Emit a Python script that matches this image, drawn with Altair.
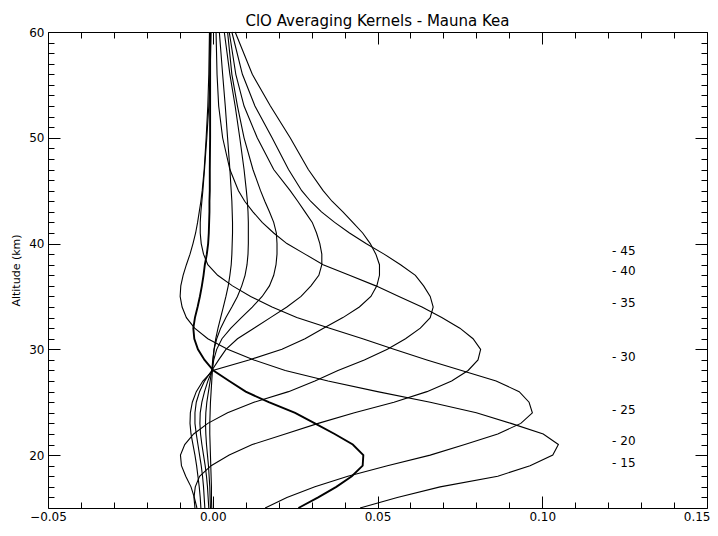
import altair as alt
import pandas as pd

# Altitude grid (km)
alts = [15, 16, 17, 18, 19, 20, 21, 22, 23, 24, 25, 26, 27, 28, 29, 30,
        31, 32, 33, 34, 35, 36, 37, 38, 39, 40, 41, 42, 43, 44, 45,
        47, 50, 53, 56, 60]

# Averaging kernel rows
k15 = [0.0260, 0.0320, 0.0375, 0.0422, 0.0455, 0.0457, 0.0425, 0.0370, 0.0310, 0.0250,
       0.0170, 0.0100, 0.0050, 0.0002, -0.0025, -0.0045, -0.0056, -0.0059, -0.0054, -0.0046,
       -0.0039, -0.0033, -0.0028, -0.0024, -0.0018, -0.0014, -0.0012, -0.0011, -0.0010, -0.0010,
       -0.0009, -0.0009, -0.0008, -0.0008, -0.0008, -0.0008]
k20 = [0.0447, 0.0560, 0.0690, 0.0865, 0.0963, 0.1032, 0.1049, 0.1003, 0.0905, 0.0800,
       0.0660, 0.0500, 0.0350, 0.0220, 0.0125, 0.0045, -0.0015, -0.0055, -0.0080, -0.0093,
       -0.0099, -0.0097, -0.0090, -0.0080, -0.0069, -0.0060, -0.0052, -0.0046, -0.0041, -0.0036,
       -0.0032, -0.0026, -0.0020, -0.0015, -0.0012, -0.0010]
k25 = [0.0159, 0.0225, 0.0310, 0.0410, 0.0530, 0.0660, 0.0765, 0.0865, 0.0935, 0.0970,
       0.0960, 0.0930, 0.0860, 0.0755, 0.0650, 0.0550, 0.0455, 0.0355, 0.0255, 0.0180,
       0.0115, 0.0060, 0.0015, -0.0015, -0.0028, -0.0035, -0.0038, -0.0038, -0.0036, -0.0033,
       -0.0030, -0.0025, -0.0018, -0.0012, -0.0008, -0.0005]
k30 = [-0.0054, -0.0057, -0.0053, -0.0040, -0.0005, 0.0050, 0.0120, 0.0220, 0.0320, 0.0430,
       0.0550, 0.0650, 0.0725, 0.0775, 0.0805, 0.0813, 0.0790, 0.0750, 0.0695, 0.0635,
       0.0565, 0.0495, 0.0415, 0.0335, 0.0280, 0.0225, 0.0185, 0.0150, 0.0122, 0.0097,
       0.0078, 0.0052, 0.0030, 0.0018, 0.0013, 0.0010]
k35 = [-0.0048, -0.0056, -0.0066, -0.0082, -0.0095, -0.0098, -0.0085, -0.0058, -0.0015, 0.0045,
       0.0125, 0.0230, 0.0310, 0.0380, 0.0460, 0.0530, 0.0585, 0.0630, 0.0660, 0.0669,
       0.0660, 0.0640, 0.0615, 0.0570, 0.0520, 0.0465, 0.0415, 0.0370, 0.0330, 0.0297,
       0.0270, 0.0230, 0.0180, 0.0128, 0.0090, 0.0058]
k40 = [-0.0036, -0.0038, -0.0041, -0.0045, -0.0049, -0.0054, -0.0060, -0.0066, -0.0069, -0.0068,
       -0.0062, -0.0050, -0.0030, 0.0000, 0.0110, 0.0210, 0.0280, 0.0336, 0.0395, 0.0445,
       0.0480, 0.0498, 0.0506, 0.0506, 0.0495, 0.0478, 0.0455, 0.0425, 0.0395, 0.0362,
       0.0335, 0.0290, 0.0235, 0.0175, 0.0120, 0.0068]
k45 = [-0.0024, -0.0026, -0.0028, -0.0031, -0.0035, -0.0040, -0.0045, -0.0050, -0.0054, -0.0054,
       -0.0050, -0.0040, -0.0025, -0.0003, 0.0018, 0.0040, 0.0075, 0.0125, 0.0175, 0.0225,
       0.0268, 0.0298, 0.0322, 0.0331, 0.0331, 0.0325, 0.0315, 0.0302, 0.0280, 0.0258,
       0.0235, 0.0185, 0.0135, 0.0095, 0.0070, 0.0050]
k50 = [-0.0012, -0.0014, -0.0016, -0.0019, -0.0023, -0.0028, -0.0033, -0.0037, -0.0039, -0.0038,
       -0.0033, -0.0025, -0.0015, -0.0002, 0.0003, 0.0012, 0.0028, 0.0055, 0.0087, 0.0120,
       0.0150, 0.0172, 0.0185, 0.0192, 0.0195, 0.0195, 0.0193, 0.0185, 0.0172, 0.0158,
       0.0145, 0.0122, 0.0095, 0.0075, 0.0058, 0.0045]
k55 = [-0.0007, -0.0008, -0.0009, -0.0011, -0.0013, -0.0016, -0.0019, -0.0021, -0.0022, -0.0021,
       -0.0018, -0.0013, -0.0008, -0.0003, 0.0000, 0.0004, 0.0012, 0.0024, 0.0040, 0.0058,
       0.0075, 0.0088, 0.0098, 0.0104, 0.0107, 0.0108, 0.0108, 0.0108, 0.0107, 0.0105,
       0.0102, 0.0095, 0.0082, 0.0068, 0.0052, 0.0035]
k60 = [-0.0003, -0.0004, -0.0004, -0.0005, -0.0006, -0.0007, -0.0008, -0.0009, -0.0009, -0.0008,
       -0.0007, -0.0005, -0.0003, -0.0001, 0.0001, 0.0004, 0.0009, 0.0016, 0.0024, 0.0032,
       0.0040, 0.0047, 0.0052, 0.0056, 0.0058, 0.0059, 0.0060, 0.0060, 0.0059, 0.0058,
       0.0056, 0.0052, 0.0045, 0.0038, 0.0030, 0.0020]

thin_kernels = {"20": k20, "25": k25, "30": k30, "35": k35, "40": k40,
                "45": k45, "50": k50, "55": k55, "60": k60}
thick_kernels = {"15": k15}

# Right-hand labels
label_text = ["- 45", "- 40", "- 35", "- 30", "- 25", "- 20", "- 15"]
label_alt = [39.31, 37.36, 34.36, 29.32, 24.31, 21.31, 19.30]
label_x = 0.1212

# Axis ticks
x_major = [-0.05, 0.0, 0.05, 0.10, 0.15]
x_minor = [-0.04, -0.03, -0.02, -0.01, 0.01, 0.02, 0.03, 0.04,
           0.06, 0.07, 0.08, 0.09, 0.11, 0.12, 0.13, 0.14]
y_major = [20, 30, 40, 50, 60]
y_minor = [a for a in range(16, 60) if a % 10 != 0]

def frame(kernels):
    rows = []
    for name, vals in kernels.items():
        for a, v in zip(alts, vals):
            rows.append({"kernel": name, "alt": a, "x": v})
    return pd.DataFrame(rows)

thin_df = frame(thin_kernels)
thick_df = frame(thick_kernels)
all_df = pd.concat([thin_df, thick_df], ignore_index=True)
lab_df = pd.DataFrame({"text": label_text, "alt": label_alt,
                       "lx": [label_x] * len(label_text)})

FONT = "DejaVu Sans"
W, H = 659, 476
xs = alt.Scale(domain=[-0.05, 0.15], nice=False, zero=False)
ys = alt.Scale(domain=[15, 60], nice=False, zero=False)


def tick_axis(orient, values, size):
    return alt.Axis(orient=orient, values=values, tickSize=size, offset=-size,
                    domain=False, grid=False, labels=False, title=None,
                    tickColor="black", tickWidth=1, minExtent=0, maxExtent=200)


x_main = alt.Axis(orient="bottom", values=x_major, format=".2f", tickSize=12,
                  offset=-12, domain=False, grid=False, labels=True, title=None,
                  labelFlush=False,
                  labelAlign={"condition": {"test": "datum.value > 0.149", "value": "right"},
                              "value": "center"},
                  labelOffset={"condition": {"test": "datum.value > 0.149", "value": 3},
                               "value": 0},
                  labelPadding=3,
                  labelFont=FONT, labelFontSize=12, labelColor="black",
                  tickColor="black", tickWidth=1, labelBaseline="top",
                  minExtent=0)
y_main = alt.Axis(orient="left", values=y_major, format="d", tickSize=12,
                  offset=-12, domain=False, grid=False, labels=True,
                  labelFlush=False, labelPadding=4, labelFont=FONT,
                  labelFontSize=12, labelColor="black", tickColor="black",
                  tickWidth=1, title="Altitude (km)", titleFont=FONT,
                  titleFontSize=11, titleFontWeight="normal", titleColor="black",
                  titleX=-44, titleY=H / 2, titleAngle=270,
                  titleBaseline="middle", titleAlign="center", minExtent=0)

thin = alt.Chart(thin_df).mark_line(color="black", strokeWidth=1.1).encode(
    x=alt.X("x:Q", scale=xs, axis=x_main),
    y=alt.Y("alt:Q", scale=ys, axis=y_main),
    detail="kernel:N",
    order="alt:Q",
)

thick = alt.Chart(thick_df).mark_line(color="black", strokeWidth=1.9).encode(
    x=alt.X("x:Q", scale=xs, axis=tick_axis("bottom", x_minor, 6)),
    y=alt.Y("alt:Q", scale=ys, axis=tick_axis("left", y_minor, 6)),
    detail="kernel:N",
    order="alt:Q",
)

ghost_major = alt.Chart(all_df).mark_point(opacity=0, size=1).encode(
    x=alt.X("x:Q", scale=xs, axis=tick_axis("top", x_major, 12)),
    y=alt.Y("alt:Q", scale=ys, axis=tick_axis("right", y_major, 12)),
)

ghost_minor = alt.Chart(all_df).mark_point(opacity=0, size=1).encode(
    x=alt.X("x:Q", scale=xs, axis=tick_axis("top", x_minor, 6)),
    y=alt.Y("alt:Q", scale=ys, axis=tick_axis("right", y_minor, 6)),
)

labels = alt.Chart(lab_df).mark_text(align="left", baseline="middle", font=FONT,
                                     fontSize=12, color="black").encode(
    x=alt.X("lx:Q", scale=xs, axis=None),
    y=alt.Y("alt:Q", scale=ys, axis=None),
    text="text:N",
)

chart = alt.layer(thin, thick, ghost_major, ghost_minor, labels).resolve_axis(
    x="independent", y="independent"
).properties(
    width=W,
    height=H,
    padding={"left": 40, "top": 24, "right": 3, "bottom": 14},
    autosize=alt.AutoSizeParams(type="none"),
    title=alt.TitleParams("ClO Averaging Kernels - Mauna Kea", font=FONT,
                          fontSize=15, fontWeight="normal", color="black",
                          anchor="middle", frame="group", offset=-15,
                          baseline="alphabetic"),
).configure_view(stroke="black", strokeWidth=1)

chart.save("out.html", embed_options={"renderer": "svg", "actions": False})
